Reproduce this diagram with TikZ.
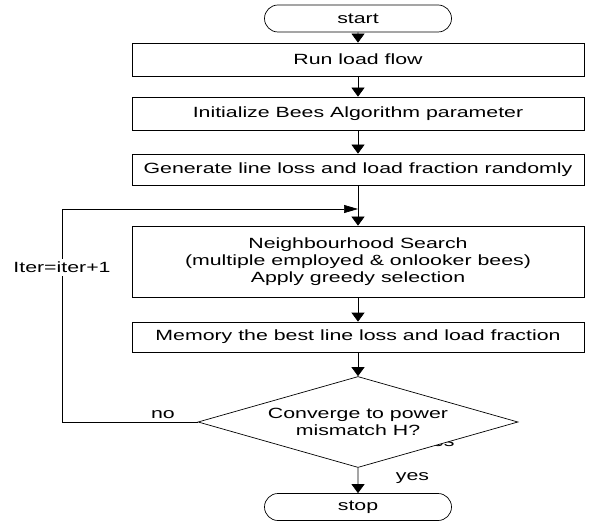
\documentclass[tikz,border=0pt]{standalone}
\usepackage{fontspec}
\setmainfont{Liberation Sans}[FakeStretch=1.44]
\usetikzlibrary{shapes.geometric,shapes.misc,arrows.meta}

\tikzstyle{process}=[draw,line width=0.7bp,rectangle,minimum width=452bp,align=center,inner sep=0pt]
\tikzstyle{terminal}=[draw,line width=0.7bp,rounded rectangle,minimum width=187bp,minimum height=27bp,inner sep=0pt]
\tikzstyle{decision}=[draw,line width=0.7bp,diamond,aspect=3.5,minimum width=320bp,minimum height=91bp,fill=white,align=center,inner sep=0pt]
\tikzstyle{edge}=[draw,line width=0.7bp,-{Triangle[length=9bp,width=13bp]}]
\tikzstyle{loopback}=[draw,line width=0.7bp,-{Triangle[length=14bp,width=8bp]}]
\tikzstyle{tag}=[anchor=base]

\begin{document}
\begin{tikzpicture}[x=1bp, y=-1bp, font=\fontsize{14.8bp}{17bp}\selectfont]
    \useasboundingbox (0,0) rectangle (591,529);
    % First we draw the terminals and the process boxes
    \node[terminal] (start) at (358,18.5) {start};
    \foreach \pos/\name/\h/\txt in {{(358,59.5)/run/33/{Run load flow}},
            {(358,113.5)/init/33/{Initialize Bees Algorithm parameter}},
            {(358,169.5)/gen/31/{Generate line loss and load fraction randomly}},
            {(358,261.5)/nbh/71/{Neighbourhood Search\\(multiple employed \& onlooker bees)\\Apply greedy selection}},
            {(358,337)/mem/30/{Memory the best line loss and load fraction}}}
        \node[process, minimum height=\h bp] (\name) at \pos {\txt};
    % the test, with a label half hidden behind it
    \node[tag] (hidden) at (438,446) {yes};
    \node[decision] (conv) at (358,422) {Converge to power\\mismatch H?};
    \node[terminal] (stop) at (358,507) {stop};
    % corners of the return loop
    \coordinate (down) at (62,422);
    \coordinate (up) at (62,209);
    \coordinate (merge) at (358,209);
    % Connect the steps
    \foreach \source/ \dest in {start/run, run/init, init/gen, gen/nbh, nbh/mem, mem/conv, conv/stop}
        \path[edge] (\source) -- (\dest);
    \path[loopback] (conv.west) -- (down) -- (up) -- (merge);
    \node[fill=white] (iter) at (62,267.5) {Iter=iter+1};
    \node[tag] (no) at (163,418) {no};
    \node[tag] (yes) at (412.5,480) {yes};
\end{tikzpicture}
\end{document}
